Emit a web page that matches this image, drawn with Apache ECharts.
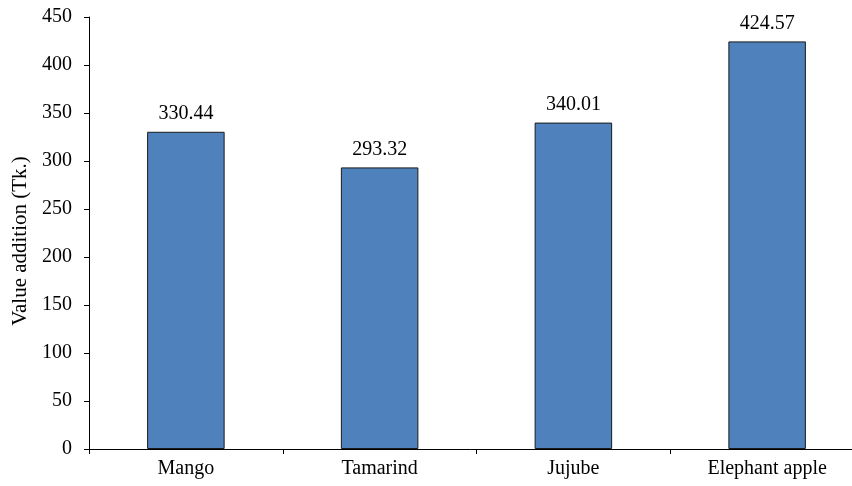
<!DOCTYPE html>
<html>
<head>
<meta charset="utf-8">
<script src="https://cdn.jsdelivr.net/npm/echarts@6/dist/echarts.min.js"></script>
<style>
  html, body { margin: 0; padding: 0; background: #fff; }
  #chart { width: 852px; height: 486px; }
</style>
</head>
<body>
<div id="chart"></div>
<script>
// Value addition per fruit product
const categories = ['Mango', 'Tamarind', 'Jujube', 'Elephant apple'];
const values = [330.44, 293.32, 340.01, 424.57];
const yTicks = [0, 50, 100, 150, 200, 250, 300, 350, 400, 450];

const font = 'Liberation Serif, Times New Roman, serif';
const chart = echarts.init(document.getElementById('chart'));
chart.setOption({
  animation: false,
  grid: { left: 89, top: 17, height: 432, width: 775, outerBoundsMode: 'none', containLabel: false },
  xAxis: {
    type: 'category',
    data: categories,
    axisLine: { lineStyle: { color: '#000', width: 1 } },
    axisTick: { show: true, length: 5, inside: false, lineStyle: { color: '#000' } },
    axisLabel: { color: '#000', fontFamily: font, fontSize: 20, margin: 10 }
  },
  yAxis: {
    type: 'value',
    min: yTicks[0],
    max: yTicks[yTicks.length - 1],
    interval: 50,
    name: 'Value addition (Tk.)',
    nameLocation: 'middle',
    nameGap: 54,
    nameTextStyle: { color: '#000', fontFamily: font, fontSize: 21, padding: [0, 16, 0, 0] },
    axisLine: { show: true, lineStyle: { color: '#000', width: 1 } },
    axisTick: { show: true, length: 5, lineStyle: { color: '#000' } },
    axisLabel: { color: '#000', fontFamily: font, fontSize: 20, margin: 17 },
    splitLine: { show: false }
  },
  series: [{
    type: 'bar',
    data: values,
    barWidth: '40%',
    itemStyle: { color: '#4F81BD', borderColor: '#1a1a1a', borderWidth: 1 },
    label: {
      show: true,
      position: 'top',
      distance: 8,
      color: '#000',
      fontFamily: font,
      fontSize: 20,
      formatter: p => p.value.toFixed(2)
    }
  }]
});
</script>
</body>
</html>
